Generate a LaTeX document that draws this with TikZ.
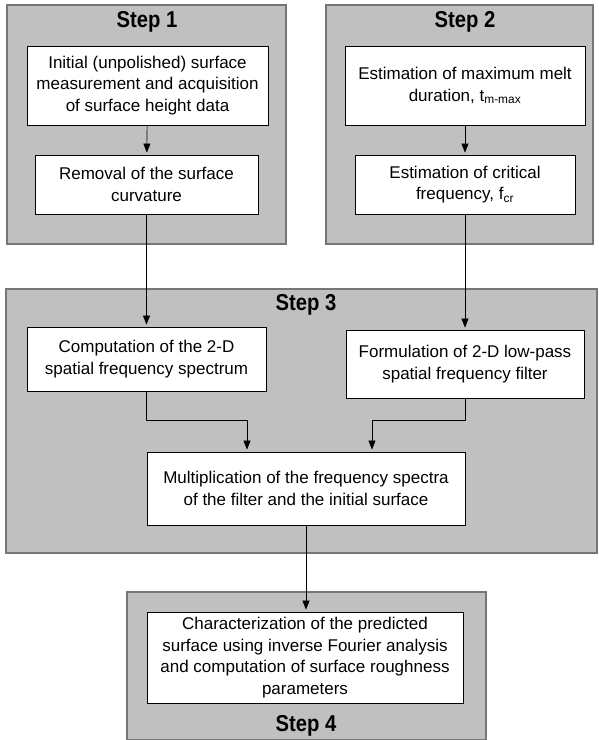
\documentclass[tikz,border=0pt]{standalone}
\usepackage{fontspec}
\setmainfont{Liberation Sans}
\newfontfamily\stepfont[FakeStretch=0.88]{Liberation Sans}
\usetikzlibrary{arrows.meta,positioning}
\definecolor{panelfill}{RGB}{192,192,192}
\definecolor{paneledge}{RGB}{118,118,118}

\begin{document}
\begin{tikzpicture}[x=1pt,y=-1pt,>={Triangle[width=7pt,length=9pt]},
    font=\fontsize{17}{21.5}\selectfont,
    panel/.style={draw=paneledge,fill=panelfill,line width=1.2pt,inner sep=0pt},
    box/.style={draw=black,fill=white,line width=0.8pt,align=center,inner sep=0pt},
    steplabel/.style={font=\stepfont\fontsize{23}{26}\selectfont\bfseries},
    link/.style={->,line width=0.6pt,shorten >=2pt}]
  \useasboundingbox (0,0) rectangle (599,740);
  % grey panels
  \node[panel,minimum width=279pt,minimum height=239pt] (p1) at (146.5,124.5) {};
  \node[panel,minimum width=267pt,minimum height=239pt] (p2) at (459.5,124.5) {};
  \node[panel,minimum width=591pt,minimum height=264pt] (p3) at (301.5,421) {};
  \node[panel,minimum width=359pt,minimum height=148pt] (p4) at (306.5,666) {};
  \node[steplabel] (s1) at (147,22) {Step 1};
  \node[steplabel] (s2) at (465,22) {Step 2};
  \node[steplabel] (s3) at (306,305) {Step 3};
  \node[steplabel] (s4) at (306,726) {Step 4};
  % steps 1 and 2
  \node[box,minimum width=241pt,minimum height=79pt] (meas) at (147.5,85.5)
    {Initial (unpolished) surface\\measurement and acquisition\\of surface height data};
  \node[box,minimum width=223pt,minimum height=59pt] (curv) at (146.5,184.5)
    {Removal of the surface\\curvature};
  \node[box,minimum width=240pt,minimum height=79pt] (tmax) at (465,85.5)
    {Estimation of maximum melt\\duration, t\textsubscript{m-max}};
  \node[box,minimum width=220pt,minimum height=59pt] (fcr) at (465,184.5)
    {Estimation of critical\\frequency, f\textsubscript{cr}};
  % step 3
  \node[box,minimum width=239pt,minimum height=64pt] (spec) at (146.5,359)
    {Computation of the 2-D\\spatial frequency spectrum};
  \node[box,minimum width=238pt,minimum height=68pt] (filt) at (465,364)
    {Formulation of 2-D low-pass\\spatial frequency filter};
  \node[box,minimum width=318pt,minimum height=73pt] (mult) at (306,488.5)
    {Multiplication of the frequency spectra\\of the filter and the initial surface};
  % step 4
  \node[box,minimum width=316pt,minimum height=91pt] (rough) at (305,657.5)
    {Characterization of the predicted\\surface using inverse Fourier analysis\\and computation of surface roughness\\parameters};
  \coordinate (jl) at (247,420);
  \coordinate (jr) at (372,420);
  \draw[link] (meas) -- (curv);
  \draw[link] (tmax) -- (fcr);
  \draw[link] (curv) -- (spec);
  \draw[link] (fcr) -- (filt);
  \draw[link] (spec.south) |- (jl) -- (jl |- mult.north);
  \draw[link] (filt.south) |- (jr) -- (jr |- mult.north);
  \draw[link] (mult.south) -- (mult.south |- rough.north);
\end{tikzpicture}
\end{document}
